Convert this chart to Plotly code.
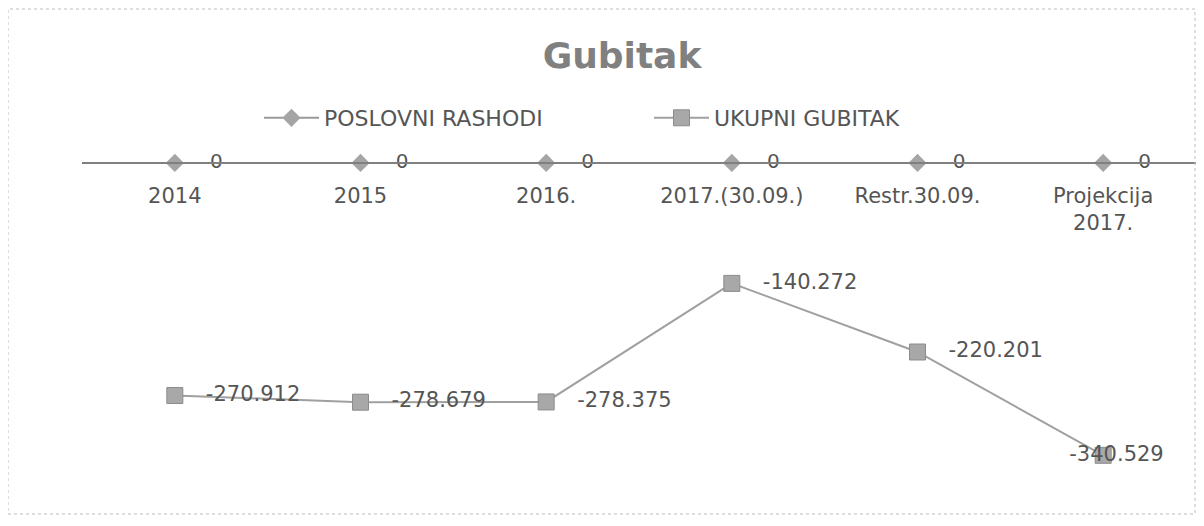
import plotly.graph_objects as go

categories = ["2014", "2015", "2016.", "2017.(30.09.)", "Restr.30.09.", "Projekcija<br>2017."]
poslovni_rashodi = [0, 0, 0, 0, 0, 0]
ukupni_gubitak = [-270.912, -278.679, -278.375, -140.272, -220.201, -340.529]
ukupni_labels = ["-270.912", "-278.679", "-278.375", "-140.272", "-220.201", "-340.529"]
rashodi_labels = ["0", "0", "0", "0", "0", "0"]

# page body has an 8px margin; figure sized to fit inside the window
OFF = 8
W, H = 1188, 510
FONT = "DejaVu Sans"
TXT = "#555555"
NB = "\u00a0"


def fx(px):
    return (px - OFF) / W


def fy(py):
    return 1 - (py - OFF) / H


uk_text = [NB * 3 + t for t in ukupni_labels]
uk_pos = ["middle right"] * (len(ukupni_labels) - 1) + ["middle center"]
uk_text[-1] = NB * 4 + ukupni_labels[-1]

fig = go.Figure()
fig.add_trace(go.Scatter(
    x=categories, y=poslovni_rashodi, name="POSLOVNI RASHODI",
    mode="lines+markers+text", text=[NB * 4 + t for t in rashodi_labels],
    textposition="middle right",
    line=dict(color="#9a9a9a", width=2),
    marker=dict(symbol="diamond", size=14, color="#a5a5a5"),
    textfont=dict(family=FONT, size=20, color=TXT),
))
fig.add_trace(go.Scatter(
    x=categories, y=ukupni_gubitak, name="UKUPNI GUBITAK",
    mode="lines+markers+text", text=uk_text, textposition=uk_pos,
    line=dict(color="#a0a0a0", width=2),
    marker=dict(symbol="square", size=16, color="#a8a8a8", line=dict(color="#8c8c8c", width=1)),
    textfont=dict(family=FONT, size=21, color=TXT),
))

fig.update_layout(
    width=W, height=H,
    margin=dict(l=0, r=0, t=0, b=0),
    paper_bgcolor="white", plot_bgcolor="white",
    font=dict(family=FONT, color=TXT),
    title=dict(text="<b>Gubitak</b>", x=fx(622), xanchor="center", y=fy(55), yanchor="middle",
               font=dict(family=FONT, size=36, color="#808080")),
    legend=dict(orientation="h", x=fx(259), xanchor="left", y=fy(118), yanchor="middle",
                font=dict(family=FONT, size=22, color=TXT), itemwidth=55,
                entrywidth=320, bgcolor="rgba(0,0,0,0)"),
    showlegend=True,
    xaxis=dict(domain=[fx(82), fx(1196)], range=[-0.5, 5.5], type="category",
               anchor="free", position=fy(163), side="bottom",
               showline=True, linecolor="#808080", linewidth=1.5,
               showgrid=False, ticks="", tickfont=dict(family=FONT, size=21, color=TXT),
               ticklabelstandoff=14, zeroline=False),
    yaxis=dict(domain=[fy(500), fy(150)], range=[-392.6, 15.1], visible=False,
               showgrid=False, zeroline=False),
    shapes=[dict(type="rect", xref="paper", yref="paper", x0=fx(8), x1=fx(1195),
                 y0=fy(514), y1=fy(9), line=dict(color="#bdbdbd", width=1, dash="dot"))],
)

fig.write_html("out.html")
